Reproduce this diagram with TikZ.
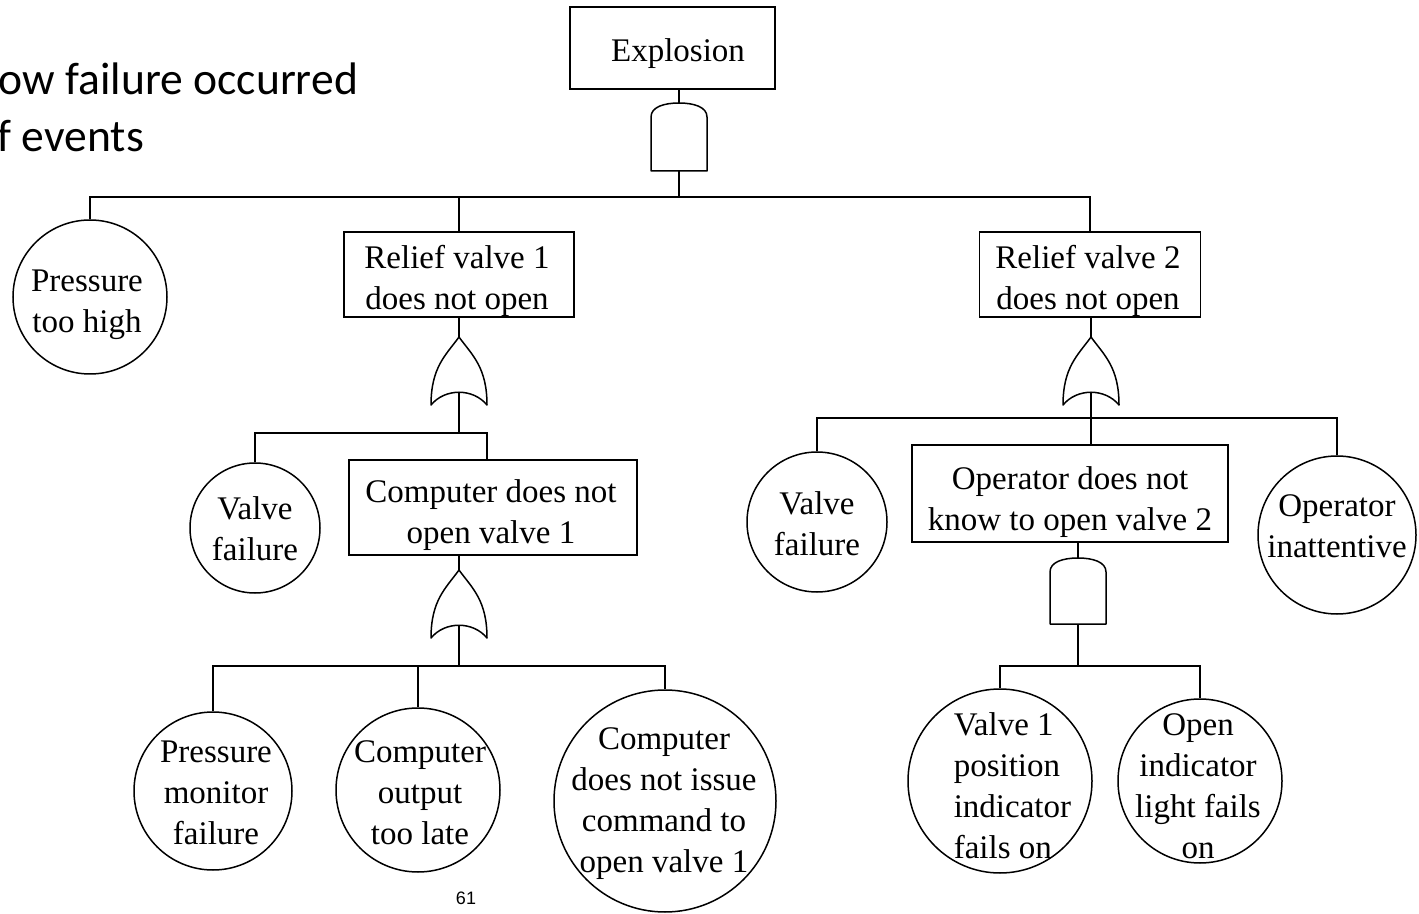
\documentclass[tikz,border=0pt]{standalone}
\usepackage{fontspec}
\setmainfont{Liberation Serif}
\newfontfamily\slidefont{Carlito}
\newfontfamily\pagefont{Liberation Sans}
\usepackage{tikz}
\usetikzlibrary{calc}
\tikzset{
  tree/.style={x=0.5pt,y=-0.5pt,line width=0.75pt,font=\fontsize{16.5}{20.5}\selectfont},
  eventbox/.style={draw,rectangle,inner sep=0pt},
  basic/.style={draw,circle,inner sep=0pt},
  basictext/.style={inner sep=0pt,align=center},
  heading/.style={anchor=base west,inner sep=0pt,font=\slidefont\fontsize{22.8}{28.5}\selectfont},
  gate/.style={line width=0.75pt,line join=round},
  wire/.style={line width=0.75pt},
}
% name, x, top, bottom
\newcommand{\andgate}[4]{%
  \draw[gate] ({#2-28},{#3+14}) .. controls ({#2-28},{#3+4}) and ({#2-15},{#3}) .. ({#2},{#3})
    .. controls ({#2+15},{#3}) and ({#2+28},{#3+4}) .. ({#2+28},{#3+14})
    -- ({#2+28},{#4}) -- ({#2-28},{#4}) -- cycle;
  \coordinate (#1-in) at (#2,#3);
  \coordinate (#1-out) at (#2,#4);
}
% name, x, apex
\newcommand{\orgate}[3]{%
  \draw[gate] ({#2-28},{#3+68}) .. controls ({#2-28},{#3+30}) and ({#2-13},{#3+18}) .. ({#2},{#3})
    .. controls ({#2+13},{#3+18}) and ({#2+28},{#3+30}) .. ({#2+28},{#3+68})
    .. controls ({#2+14},{#3+51}) and ({#2-14},{#3+51}) .. ({#2-28},{#3+68}) -- cycle;
  \coordinate (#1-in) at (#2,#3);
  \coordinate (#1-out) at (#2,{#3+55});
}

\begin{document}
\begin{tikzpicture}[tree]
  \useasboundingbox (0,0) rectangle (1419,914);

  \node[heading] (heading1) at (-2,95) {ow failure occurred};
  \node[heading] (heading2) at (-3,152) {f events};

  % top event
  \node[eventbox,minimum width=102.5pt,minimum height=41pt] (explosion) at (672.5,48) {};
  \node[basictext] (explosion-t) at (678,54) {Explosion};
  \andgate{g1}{679}{103}{171}
  \draw[wire] (g1-in |- explosion.south) -- (g1-in);
  \coordinate (bus1) at (679,197);
  \draw[wire] (g1-out) -- (bus1);

  \node[basic,minimum size=77pt] (ptoohigh) at (90,297) {};
  \node[basictext] (ptoohigh-t) at (87,305) {Pressure\\too high};
  \node[eventbox,minimum width=115pt,minimum height=42.5pt] (rv1) at (459,274.5) {};
  \node[basictext] (rv1-t) at (457,281) {Relief valve 1\\does not open};
  \node[eventbox,minimum width=110.5pt,minimum height=42.5pt] (rv2) at (1090,274.5) {};
  \node[basictext] (rv2-t) at (1088,281) {Relief valve 2\\does not open};
  \draw[wire] (ptoohigh.north) |- (bus1) -| (rv2.north);
  \draw[wire] (bus1 -| rv1.north) -- (rv1.north);

  % relief valve 1
  \orgate{g2}{459}{337}
  \draw[wire] (rv1.south) -- (g2-in);
  \coordinate (bus2) at (459,433);
  \draw[wire] (g2-out) -- (bus2);
  \node[basic,minimum size=65pt] (vfailL) at (255,528) {};
  \node[basictext] (vfailL-t) at (255,529) {Valve\\failure};
  \node[eventbox,minimum width=144pt,minimum height=47.5pt] (compbox) at (493,507.5) {};
  \node[basictext] (compbox-t) at (491,515) {Computer does not\\open valve 1};
  \draw[wire] (vfailL.north) |- (bus2) -| ([xshift=-3pt]compbox.north);

  \orgate{g4}{459}{570}
  \draw[wire] (g4-in |- compbox.south) -- (g4-in);
  \coordinate (bus4) at (459,666);
  \draw[wire] (g4-out) -- (bus4);
  \node[basic,minimum size=79pt] (pmon) at (213,791) {};
  \node[basictext] (pmon-t) at (216,793) {Pressure\\monitor\\failure};
  \node[basic,minimum size=82pt] (colate) at (418,790) {};
  \node[basictext] (colate-t) at (420,793) {Computer\\output\\too late};
  \node[basic,minimum size=111pt] (cmdissue) at (665,801) {};
  \node[basictext] (cmdissue-t) at (664,804) {Computer\\does not issue\\command to\\open valve 1};
  \draw[wire] (pmon.north) |- (bus4) -| (cmdissue.north);
  \draw[wire] (bus4 -| colate.north) -- (colate.north);

  % relief valve 2
  \orgate{g3}{1091}{337}
  \draw[wire] (g3-in |- rv2.south) -- (g3-in);
  \coordinate (bus3) at (1091,418);
  \draw[wire] (g3-out) -- (bus3);
  \node[basic,minimum size=70pt] (vfailR) at (817,522) {};
  \node[basictext] (vfailR-t) at (817,524) {Valve\\failure};
  \node[eventbox,minimum width=158pt,minimum height=48.5pt] (opbox) at (1070,493.5) {};
  \node[basictext] (opbox-t) at (1070,502) {Operator does not\\know to open valve 2};
  \node[basic,minimum size=79pt] (opinatt) at (1337,535) {};
  \node[basictext] (opinatt-t) at (1337,526) {Operator\\inattentive};
  \draw[wire] (vfailR.north) |- (bus3) -| (opinatt.north);
  \draw[wire] (bus3) -- (bus3 |- opbox.north);

  \andgate{g5}{1078}{558}{624}
  \draw[wire] (g5-in |- opbox.south) -- (g5-in);
  \coordinate (bus5) at (1078,666);
  \draw[wire] (g5-out) -- (bus5);
  \node[basic,minimum size=92pt] (v1pos) at (1000,781) {};
  \node[basictext,align=left,anchor=west] (v1pos-t) at (953,786) {Valve 1\\position\\indicator\\fails on};
  \node[basic,minimum size=82pt] (openind) at (1200,781) {};
  \node[basictext] (openind-t) at (1198,786) {Open\\indicator\\light fails\\on};
  \draw[wire] (v1pos.north) |- (bus5) -| (openind.north);

  \node[font=\pagefont\fontsize{9}{11}\selectfont,inner sep=0pt] (pagenum) at (466,898) {61};
\end{tikzpicture}
\end{document}
